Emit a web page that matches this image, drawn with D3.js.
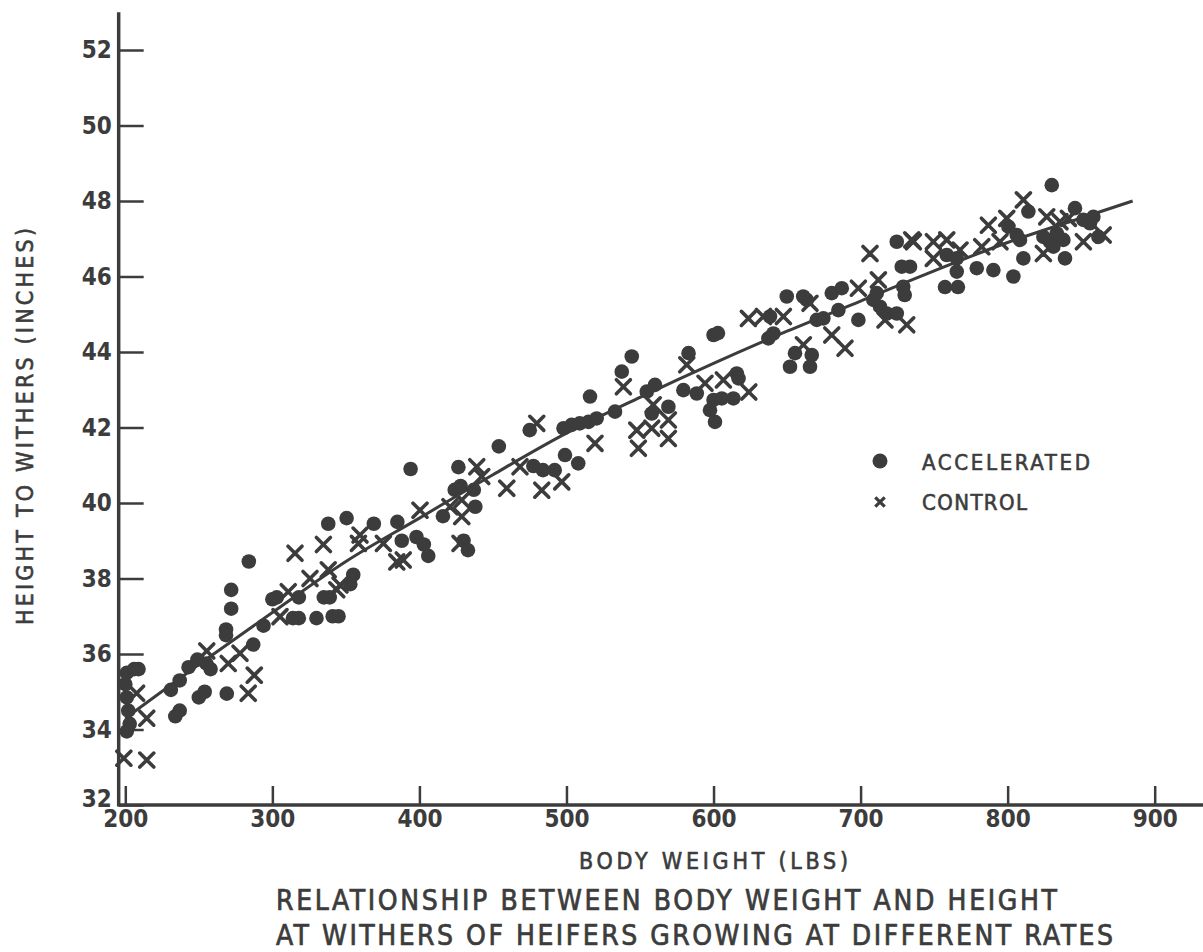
<!DOCTYPE html>
<html>
<head>
<meta charset="utf-8">
<script src="https://cdn.jsdelivr.net/npm/d3@7"></script>
<style>
  html, body { margin: 0; padding: 0; background: #fff; }
  svg { display: block; }
  text { font-family: "DejaVu Sans Condensed", "DejaVu Sans", sans-serif; fill: #3c3c3c; }
</style>
</head>
<body>
<svg id="chart" width="1203" height="952"></svg>
<script>
// ---------- DATA ----------
const xTicks = [200, 300, 400, 500, 600, 700, 800, 900];
const yTicks = [32, 34, 36, 38, 40, 42, 44, 46, 48, 50, 52];

// fitted curve
const fitX = [200, 250, 300, 350, 400, 450, 500, 550, 600, 650, 700, 750, 800, 850, 885];
const fitY = [34.3, 35.72, 37.1, 38.45, 39.6, 40.75, 41.85, 42.8, 43.7, 44.55, 45.35, 46.15, 46.9, 47.55, 48.0];

// ACCELERATED (dots)
const accelX = [201, 206, 209, 200, 201, 202, 203, 201,
  234, 237, 250, 254, 231, 237, 243, 249, 255, 258, 269, 268.5, 268.5, 272, 272, 284, 287, 294,
  300, 303, 318, 314, 318, 330, 341, 345, 335, 339, 353, 355,
  338, 350.5, 369, 385, 388, 398, 403, 406,
  394, 416, 424, 428, 437, 438, 430, 433,
  426.5, 454, 475, 477.5, 484, 492,
  498, 503.5, 509, 515, 520.5, 499, 508,
  516, 533, 537.6, 544.4, 554.6, 560.2, 558, 569.3, 583, 579.5, 588.6,
  600, 603, 615.8, 617, 600, 605.6, 613.5, 597.6, 601,
  638.4, 640.7, 637.3, 649.8, 661, 663.4, 680.4, 687.2, 670.2, 674.7, 684.9, 698.5,
  708.7, 713.2, 711, 717.8, 724.6, 729, 730, 724.6, 728, 733.6,
  655.4, 666.8, 652, 665.6,
  758.6, 765.4, 765.4, 757.4, 766.2, 779, 790.3, 803.9, 810.7, 839, 861.7,
  800.5, 814.1, 830, 845.8, 824.3, 828.8, 833.4, 837.9, 831.1, 851.5, 856, 858.3, 808.4, 806.2];
const accelY = [35.5, 35.6, 35.6, 35.2, 34.85, 34.5, 34.15, 33.95,
  34.35, 34.5, 34.85, 35.0, 35.05, 35.3, 35.65, 35.85, 35.75, 35.6, 34.95, 36.65, 36.5, 37.7, 37.2, 38.45, 36.25, 36.75,
  37.45, 37.5, 37.5, 36.95, 36.95, 36.95, 37.0, 37.0, 37.5, 37.5, 37.85, 38.1,
  39.45, 39.6, 39.45, 39.5, 39.0, 39.1, 38.9, 38.6,
  40.9, 39.65, 40.35, 40.45, 40.35, 39.9, 39.0, 38.75,
  40.95, 41.5, 41.93, 40.98, 40.87, 40.87,
  41.98, 42.07, 42.11, 42.15, 42.24, 41.27, 41.05,
  42.82, 42.42, 43.48, 43.88, 42.95, 43.13, 42.37, 42.55, 43.97, 42.99, 42.9,
  44.45, 44.5, 43.43, 43.3, 42.73, 42.77, 42.77, 42.46, 42.15,
  44.94, 44.49, 44.36, 45.47, 45.47, 45.38, 45.56, 45.69, 44.85, 44.89, 45.11, 44.85,
  45.38, 45.2, 45.56, 45.02, 45.02, 45.73, 45.51, 46.92, 46.26, 46.26,
  43.97, 43.92, 43.61, 43.61,
  46.57, 46.48, 46.13, 45.72, 45.72, 46.22, 46.17, 46.0, 46.48, 46.48, 47.05,
  47.32, 47.72, 48.42, 47.81, 47.05, 46.92, 47.14, 46.97, 46.79, 47.5, 47.41, 47.58, 46.97, 47.1];

// CONTROL (x marks)
const ctrlX = [207.7, 214.6, 199, 214.6,
  255.4, 270, 278, 287.7, 283.6,
  315.4, 334.7, 325.6, 338, 346, 305.2, 310.8, 343.8,
  359.6, 358.5, 375.5, 384.6, 389,
  400.4, 420.8, 428.8, 428.8, 427.6,
  439, 442.4, 459.4, 468.4, 483.2, 479.8,
  496.8, 519.4, 538.7, 547.8, 548.9,
  558, 569.3, 569.3, 559, 581.8, 594.2, 606.7, 624,
  623.7, 633.9, 647.5, 661.1, 680.4, 689.4,
  665.6, 698.5, 706.4, 712.1, 716.6, 731.4, 735.9,
  734.8, 749.5, 758.6, 749.5, 767.6, 782.4, 786.9,
  794.8, 799.4, 810.7, 826.6, 835.6, 841.3, 824.3, 851.5, 865];
const ctrlY = [34.96, 34.3, 33.24, 33.19,
  36.08, 35.75, 36.02, 35.44, 34.96,
  38.67, 38.9, 38.0, 38.23, 37.83, 36.99, 37.65, 37.7,
  39.15, 38.93, 38.93, 38.44, 38.49,
  39.81, 39.9, 40.08, 39.64, 38.93,
  40.96, 40.7, 40.39, 40.96, 40.34, 42.11,
  40.56, 41.58, 43.08, 41.93, 41.45,
  41.98, 41.71, 42.2, 42.6, 43.66, 43.17, 43.26, 42.94,
  44.89, 44.94, 44.94, 44.19, 44.45, 44.1,
  45.29, 45.69, 46.61, 45.91, 44.85, 44.72, 46.92,
  46.97, 46.92, 46.97, 46.48, 46.7, 46.79, 47.36,
  46.92, 47.54, 48.03, 47.58, 47.45, 47.54, 46.61, 46.92, 47.1];

const legendLabels = ["ACCELERATED", "CONTROL"];
const xTitle = "BODY WEIGHT (LBS)";
const yTitle = "HEIGHT TO WITHERS (INCHES)";
const titleLines = ["RELATIONSHIP BETWEEN BODY WEIGHT AND HEIGHT",
                    "AT WITHERS OF HEIFERS GROWING AT DIFFERENT RATES"];

// ---------- DRAW ----------
const ink = "#3c3c3c";
const svg = d3.select("#chart");
const x = d3.scaleLinear().domain([200, 900]).range([125.3, 1154.7]);
const y = d3.scaleLinear().domain([32, 53]).range([805, 12.25]);

// x axis
const gx = svg.append("g").attr("transform", `translate(0,${y(32)})`)
  .call(d3.axisBottom(x).tickValues(xTicks).tickSizeInner(-19).tickSizeOuter(0).tickPadding(5));
gx.select(".domain").remove();
gx.selectAll(".tick line").attr("stroke", ink).attr("stroke-width", 2.5);
gx.selectAll(".tick text").attr("font-size", 24).attr("font-weight", "bold")
  .attr("fill", ink).attr("font-family", '"DejaVu Sans Condensed", sans-serif');

// y axis
const axisX = x(195.5);
const gy = svg.append("g").attr("transform", `translate(${axisX},0)`)
  .call(d3.axisLeft(y).tickValues(yTicks).tickSizeInner(-25).tickSizeOuter(0).tickPadding(7));
gy.select(".domain").remove();
gy.selectAll(".tick line").attr("stroke", ink).attr("stroke-width", 2.5);
gy.selectAll(".tick text").attr("font-size", 24).attr("font-weight", "bold")
  .attr("fill", ink).attr("font-family", '"DejaVu Sans Condensed", sans-serif');
// lift the bottom label slightly so it does not collide with "200"
gy.selectAll(".tick text").filter(d => d === 32).attr("dy", "0.05em");

// axis lines
svg.append("line").attr("x1", axisX).attr("x2", axisX).attr("y1", y(53)).attr("y2", y(32) + 1.5)
  .attr("stroke", ink).attr("stroke-width", 3.5);
svg.append("line").attr("x1", axisX).attr("x2", x(935)).attr("y1", y(32)).attr("y2", y(32))
  .attr("stroke", ink).attr("stroke-width", 3.5);

// fitted curve
const fit = fitX.map((v, i) => [v, fitY[i]]);
svg.append("path").datum(fit)
  .attr("d", d3.line().x(d => x(d[0])).y(d => y(d[1])).curve(d3.curveMonotoneX))
  .attr("fill", "none").attr("stroke", ink).attr("stroke-width", 3);

// accelerated dots
const accel = accelX.map((v, i) => [v, accelY[i]]);
svg.append("g").selectAll("circle").data(accel).join("circle")
  .attr("cx", d => x(d[0])).attr("cy", d => y(d[1])).attr("r", 7.3)
  .attr("fill", ink);

// control x marks
const ctrl = ctrlX.map((v, i) => [v, ctrlY[i]]);
const xSym = d3.symbol().type(d3.symbolX).size(130);
svg.append("g").selectAll("path").data(ctrl).join("path")
  .attr("transform", d => `translate(${x(d[0])},${y(d[1])})`)
  .attr("d", xSym).attr("fill", "none").attr("stroke", ink).attr("stroke-width", 3.6)
  .attr("stroke-linecap", "round");

// legend
const lg = svg.append("g");
lg.append("circle").attr("cx", 880).attr("cy", 461).attr("r", 7.5).attr("fill", ink);
lg.append("path").attr("transform", "translate(880,502)").attr("d", d3.symbol().type(d3.symbolX).size(60))
  .attr("fill", "none").attr("stroke", ink).attr("stroke-width", 3.2);
lg.append("text").attr("x", 922).attr("y", 470).attr("font-size", 22)
  .attr("stroke", ink).attr("stroke-width", 0.6)
  .attr("textLength", 168).attr("lengthAdjust", "spacing").text(legendLabels[0]);
lg.append("text").attr("x", 922).attr("y", 510).attr("font-size", 22)
  .attr("stroke", ink).attr("stroke-width", 0.6)
  .attr("textLength", 105).attr("lengthAdjust", "spacing").text(legendLabels[1]);

// titles
svg.append("text").attr("x", 579).attr("y", 869).attr("font-size", 23)
  .attr("stroke", ink).attr("stroke-width", 0.6)
  .attr("textLength", 269).attr("lengthAdjust", "spacing").text(xTitle);
svg.append("text").attr("transform", "translate(33,625) rotate(-90)").attr("font-size", 23)
  .attr("stroke", ink).attr("stroke-width", 0.6)
  .attr("textLength", 397).attr("lengthAdjust", "spacing").text(yTitle);
svg.append("text").attr("x", 276).attr("y", 910).attr("font-size", 28)
  .attr("stroke", ink).attr("stroke-width", 0.7)
  .attr("textLength", 781).attr("lengthAdjust", "spacing").text(titleLines[0]);
svg.append("text").attr("x", 276).attr("y", 945).attr("font-size", 28)
  .attr("stroke", ink).attr("stroke-width", 0.7)
  .attr("textLength", 837).attr("lengthAdjust", "spacing").text(titleLines[1]);
</script>
</body>
</html>
